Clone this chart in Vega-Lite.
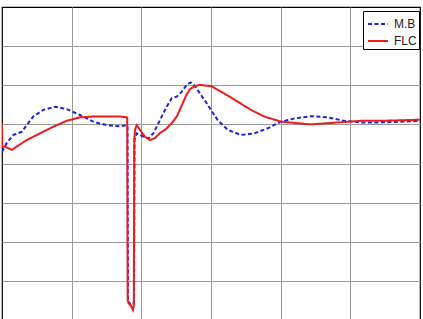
{
  "$schema": "https://vega.github.io/schema/vega-lite/v6.json",
  "width": 418,
  "height": 313,
  "autosize": {"type": "none"},
  "padding": {"left": 2, "top": 7, "right": 3, "bottom": 0},
  "background": "white",
  "config": {
    "view": {"stroke": "black", "strokeWidth": 1.2},
    "font": "Liberation Sans"
  },
  "data": {"values": [
    {"series": "M.B", "x": 0.0, "y": 4.30},
    {"series": "M.B", "x": 0.067, "y": 4.52},
    {"series": "M.B", "x": 0.162, "y": 4.73},
    {"series": "M.B", "x": 0.283, "y": 4.81},
    {"series": "M.B", "x": 0.355, "y": 4.98},
    {"series": "M.B", "x": 0.449, "y": 5.20},
    {"series": "M.B", "x": 0.593, "y": 5.37},
    {"series": "M.B", "x": 0.761, "y": 5.45},
    {"series": "M.B", "x": 0.929, "y": 5.39},
    {"series": "M.B", "x": 1.120, "y": 5.24},
    {"series": "M.B", "x": 1.310, "y": 5.07},
    {"series": "M.B", "x": 1.503, "y": 4.98},
    {"series": "M.B", "x": 1.694, "y": 4.95},
    {"series": "M.B", "x": 1.790, "y": 4.98},
    {"series": "M.B", "x": 1.801, "y": 4.93},
    {"series": "M.B", "x": 1.809, "y": 0.51},
    {"series": "M.B", "x": 1.852, "y": 0.36},
    {"series": "M.B", "x": 1.880, "y": 0.28},
    {"series": "M.B", "x": 1.895, "y": 0.51},
    {"series": "M.B", "x": 1.902, "y": 4.60},
    {"series": "M.B", "x": 1.933, "y": 4.77},
    {"series": "M.B", "x": 2.028, "y": 4.69},
    {"series": "M.B", "x": 2.100, "y": 4.64},
    {"series": "M.B", "x": 2.172, "y": 4.77},
    {"series": "M.B", "x": 2.268, "y": 5.11},
    {"series": "M.B", "x": 2.364, "y": 5.45},
    {"series": "M.B", "x": 2.436, "y": 5.67},
    {"series": "M.B", "x": 2.508, "y": 5.71},
    {"series": "M.B", "x": 2.579, "y": 5.83},
    {"series": "M.B", "x": 2.651, "y": 6.01},
    {"series": "M.B", "x": 2.708, "y": 6.07},
    {"series": "M.B", "x": 2.770, "y": 5.98},
    {"series": "M.B", "x": 2.842, "y": 5.79},
    {"series": "M.B", "x": 2.938, "y": 5.54},
    {"series": "M.B", "x": 3.000, "y": 5.37},
    {"series": "M.B", "x": 3.096, "y": 5.11},
    {"series": "M.B", "x": 3.240, "y": 4.86},
    {"series": "M.B", "x": 3.430, "y": 4.73},
    {"series": "M.B", "x": 3.621, "y": 4.77},
    {"series": "M.B", "x": 3.814, "y": 4.90},
    {"series": "M.B", "x": 4.005, "y": 5.07},
    {"series": "M.B", "x": 4.196, "y": 5.15},
    {"series": "M.B", "x": 4.435, "y": 5.21},
    {"series": "M.B", "x": 4.675, "y": 5.18},
    {"series": "M.B", "x": 4.913, "y": 5.09},
    {"series": "M.B", "x": 5.153, "y": 5.05},
    {"series": "M.B", "x": 5.393, "y": 5.05},
    {"series": "M.B", "x": 5.631, "y": 5.06},
    {"series": "M.B", "x": 6.0, "y": 5.09},
    {"series": "FLC", "x": 0.0, "y": 5.03},
    {"series": "FLC", "x": 0.005, "y": 4.43},
    {"series": "FLC", "x": 0.043, "y": 4.43},
    {"series": "FLC", "x": 0.139, "y": 4.35},
    {"series": "FLC", "x": 0.211, "y": 4.43},
    {"series": "FLC", "x": 0.355, "y": 4.60},
    {"series": "FLC", "x": 0.545, "y": 4.77},
    {"series": "FLC", "x": 0.736, "y": 4.94},
    {"series": "FLC", "x": 0.929, "y": 5.09},
    {"series": "FLC", "x": 1.120, "y": 5.18},
    {"series": "FLC", "x": 1.310, "y": 5.20},
    {"series": "FLC", "x": 1.503, "y": 5.20},
    {"series": "FLC", "x": 1.694, "y": 5.20},
    {"series": "FLC", "x": 1.790, "y": 5.18},
    {"series": "FLC", "x": 1.798, "y": 5.16},
    {"series": "FLC", "x": 1.804, "y": 0.51},
    {"series": "FLC", "x": 1.816, "y": 0.43},
    {"series": "FLC", "x": 1.852, "y": 0.36},
    {"series": "FLC", "x": 1.880, "y": 0.26},
    {"series": "FLC", "x": 1.892, "y": 0.38},
    {"series": "FLC", "x": 1.899, "y": 4.60},
    {"series": "FLC", "x": 1.909, "y": 4.86},
    {"series": "FLC", "x": 1.933, "y": 4.98},
    {"series": "FLC", "x": 1.981, "y": 4.86},
    {"series": "FLC", "x": 2.053, "y": 4.68},
    {"series": "FLC", "x": 2.124, "y": 4.60},
    {"series": "FLC", "x": 2.196, "y": 4.65},
    {"series": "FLC", "x": 2.268, "y": 4.78},
    {"series": "FLC", "x": 2.354, "y": 4.88},
    {"series": "FLC", "x": 2.440, "y": 5.04},
    {"series": "FLC", "x": 2.512, "y": 5.21},
    {"series": "FLC", "x": 2.584, "y": 5.50},
    {"series": "FLC", "x": 2.641, "y": 5.73},
    {"series": "FLC", "x": 2.698, "y": 5.90},
    {"series": "FLC", "x": 2.770, "y": 5.98},
    {"series": "FLC", "x": 2.842, "y": 6.01},
    {"series": "FLC", "x": 2.928, "y": 5.99},
    {"series": "FLC", "x": 3.000, "y": 5.98},
    {"series": "FLC", "x": 3.191, "y": 5.79},
    {"series": "FLC", "x": 3.383, "y": 5.58},
    {"series": "FLC", "x": 3.574, "y": 5.37},
    {"series": "FLC", "x": 3.765, "y": 5.20},
    {"series": "FLC", "x": 4.005, "y": 5.07},
    {"series": "FLC", "x": 4.244, "y": 5.03},
    {"series": "FLC", "x": 4.435, "y": 5.00},
    {"series": "FLC", "x": 4.675, "y": 5.03},
    {"series": "FLC", "x": 4.913, "y": 5.06},
    {"series": "FLC", "x": 5.153, "y": 5.09},
    {"series": "FLC", "x": 5.393, "y": 5.09},
    {"series": "FLC", "x": 5.631, "y": 5.10},
    {"series": "FLC", "x": 6.0, "y": 5.12}
  ]},
  "encoding": {
    "x": {"field": "x", "type": "quantitative", "scale": {"domain": [0, 6], "nice": false, "zero": false},
      "axis": {"title": null, "labels": false, "domain": false, "ticks": false, "grid": true, "values": [1, 2, 3, 4, 5], "gridColor": "#9a9a9a", "gridWidth": 1, "gridOpacity": 1}},
    "y": {"field": "y", "type": "quantitative", "scale": {"domain": [0, 8], "nice": false, "zero": false},
      "axis": {"title": null, "labels": false, "domain": false, "ticks": false, "grid": true, "values": [1, 2, 3, 4, 5, 6, 7], "gridColor": "#9a9a9a", "gridWidth": 1, "gridOpacity": 1}},
    "color": {"field": "series", "type": "nominal",
      "scale": {"domain": ["M.B", "FLC"], "range": ["#1f1fe6", "#ee1b1b"]},
      "legend": {"title": null, "orient": "none", "legendX": 361, "legendY": 4, "symbolType": "stroke", "symbolSize": 400, "symbolStrokeWidth": 2, "labelFontSize": 12, "labelColor": "#222", "strokeColor": "black", "fillColor": "white", "padding": 2, "rowPadding": -5, "labelOffset": 5, "symbolOffset": 2}},
    "strokeDash": {"field": "series", "type": "nominal",
      "scale": {"domain": ["M.B", "FLC"], "range": [[4, 2.5], [1, 0]]},
      "legend": {"title": null, "orient": "none", "legendX": 361, "legendY": 4, "symbolType": "stroke", "symbolSize": 400, "symbolStrokeWidth": 2, "labelFontSize": 12, "labelColor": "#222", "strokeColor": "black", "fillColor": "white", "padding": 2, "rowPadding": -5, "labelOffset": 5, "symbolOffset": 2}}
  },
  "layer": [
    {"transform": [{"filter": "datum.series === 'M.B'"}], "mark": {"type": "line", "strokeWidth": 2, "clip": true}},
    {"transform": [{"filter": "datum.series === 'FLC'"}], "mark": {"type": "line", "strokeWidth": 2, "clip": true}}
  ]
}
